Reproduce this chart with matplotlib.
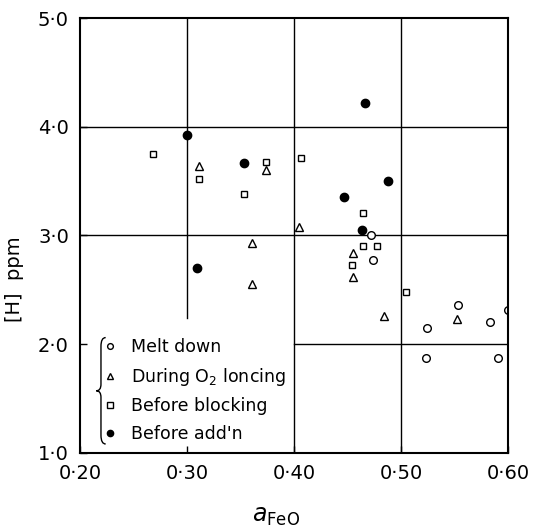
import matplotlib.pyplot as plt
from matplotlib.path import Path
from matplotlib.patches import PathPatch

# melt down (open circles)
melt_x = [0.472, 0.474, 0.5245, 0.523, 0.553, 0.5835, 0.591, 0.600]
melt_y = [3.00, 2.77, 2.15, 1.87, 2.36, 2.20, 1.87, 2.31]

# during O2 lancing (open triangles)
lance_x = [0.311, 0.3735, 0.405, 0.361, 0.361, 0.455, 0.455, 0.484, 0.552]
lance_y = [3.64, 3.60, 3.08, 2.93, 2.55, 2.84, 2.62, 2.26, 2.23]

# before blocking (open squares)
block_x = [0.2686, 0.311, 0.353, 0.3735, 0.4065, 0.4645, 0.4645, 0.478, 0.4544, 0.505]
block_y = [3.75, 3.52, 3.38, 3.68, 3.71, 3.21, 2.90, 2.90, 2.73, 2.48]

# before addition (filled circles)
add_x = [0.300, 0.466, 0.353, 0.4875, 0.4467, 0.464, 0.309]
add_y = [3.93, 4.22, 3.67, 3.50, 3.35, 3.05, 2.70]

xticks = [0.20, 0.30, 0.40, 0.50, 0.60]
xticklabels = ['0·20', '0·30', '0·40', '0·50', '0·60']
yticks = [1.0, 2.0, 3.0, 4.0, 5.0]
yticklabels = ['1·0', '2·0', '3·0', '4·0', '5·0']

fig = plt.figure(figsize=(5.54, 5.31), dpi=100)
ax = fig.add_axes([0.1444, 0.1475, 0.7726, 0.818])

# partial grid as in the original
ax.axhline(4.0, color='black', lw=1.0)
ax.axhline(3.0, color='black', lw=1.0)
ax.axhline(2.0, xmin=0.5, xmax=1.0, color='black', lw=1.0)
ax.axvline(0.30, ymin=0.31, ymax=1.0, color='black', lw=1.0)
ax.axvline(0.40, color='black', lw=1.0)
ax.axvline(0.50, color='black', lw=1.0)

ms = 5.5
ax.plot(melt_x, melt_y, 'o', mfc='white', mec='black', mew=1.0, ms=ms, label='Melt down')
ax.plot(lance_x, lance_y, '^', mfc='white', mec='black', mew=1.0, ms=ms, label='During O$_2$ loncing')
ax.plot(block_x, block_y, 's', mfc='white', mec='black', mew=1.0, ms=ms - 0.5, label='Before blocking')
ax.plot(add_x, add_y, 'o', mfc='black', mec='black', ms=ms + 0.5, label="Before add'n")

ax.set_xlim(0.20, 0.60)
ax.set_ylim(1.0, 5.0)
ax.set_xticks(xticks)
ax.set_xticklabels(xticklabels)
ax.set_yticks(yticks)
ax.set_yticklabels(yticklabels)
ax.tick_params(direction='in', length=5, width=1.0, labelsize=14, pad=8)
for s in ax.spines.values():
    s.set_linewidth(1.5)

ax.set_xlabel(r'$\mathit{a}_{\mathrm{FeO}}$', fontsize=17)
ax.xaxis.set_label_coords(0.458, -0.118)
ax.set_ylabel('[H]  ppm', fontsize=14)
ax.yaxis.set_label_coords(-0.13, 0.40)

leg = ax.legend(loc='lower left', bbox_to_anchor=(0.025, -0.005), frameon=False,
                fontsize=12.5, markerscale=0.75, handlelength=0.8,
                handletextpad=0.8, labelspacing=0.55, borderaxespad=0.3)

# curly brace to the left of the legend
bx, top, bot = 0.049, 0.265, 0.02
mid = (top + bot) / 2
w = 0.011
verts = [(bx + w, top), (bx, top), (bx, top - 0.02), (bx, mid + 0.015),
         (bx, mid), (bx - w, mid), (bx - w, mid),
         (bx, mid), (bx, mid - 0.015), (bx, bot + 0.02),
         (bx, bot), (bx + w, bot)]
codes = [Path.MOVETO, Path.CURVE3, Path.CURVE3, Path.LINETO,
         Path.CURVE3, Path.CURVE3, Path.LINETO,
         Path.CURVE3, Path.CURVE3, Path.LINETO,
         Path.CURVE3, Path.CURVE3]
ax.add_patch(PathPatch(Path(verts, codes), transform=ax.transAxes,
                       fill=False, lw=1.0, color='black', clip_on=False))

fig.savefig('out.png', dpi=100)
